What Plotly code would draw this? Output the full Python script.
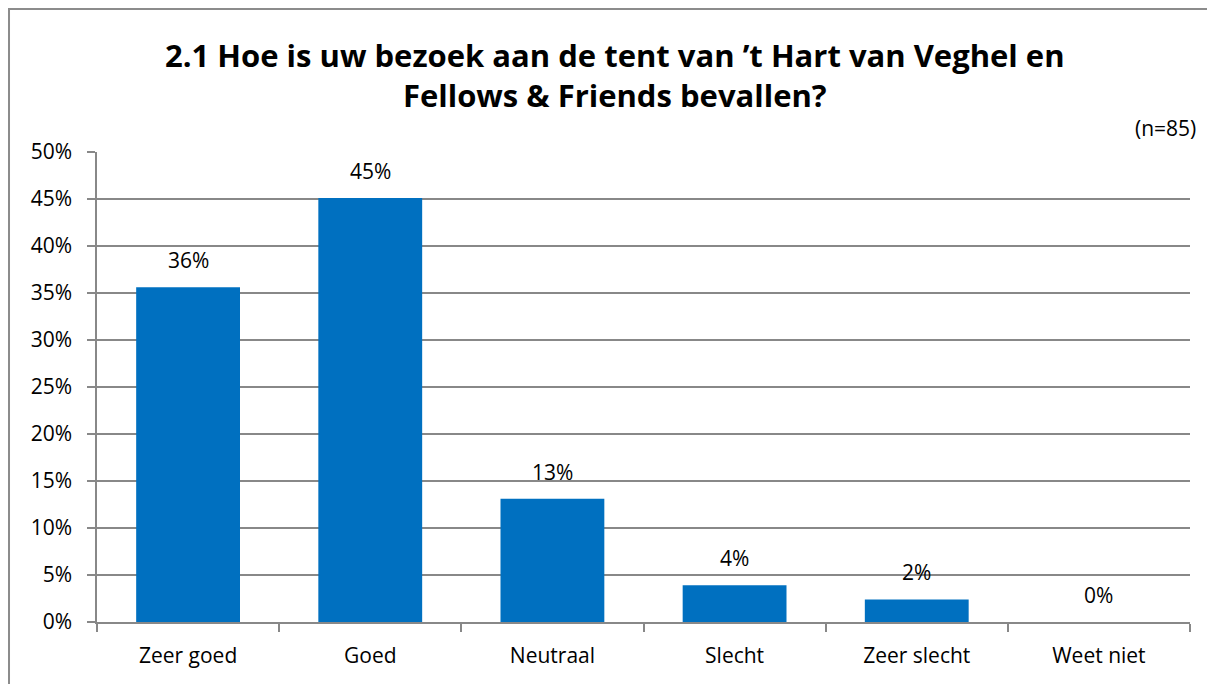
import plotly.graph_objects as go

categories = ["Zeer goed", "Goed", "Neutraal", "Slecht", "Zeer slecht", "Weet niet"]
values = [35.6, 45.1, 13.1, 3.9, 2.4, 0.0]
labels = ["36%", "45%", "13%", "4%", "2%", "0%"]
y_ticks = [0, 5, 10, 15, 20, 25, 30, 35, 40, 45, 50]
y_tick_labels = [f"{v}%" for v in y_ticks]

FONT = "Open Sans"
GRID = "#888888"
FS = 21

fig = go.Figure()
fig.add_trace(go.Bar(
    x=categories, y=values,
    marker=dict(color="#0070C0", line=dict(width=0)),
    hoverinfo="skip",
))

for c, v, t in zip(categories, values, labels):
    fig.add_annotation(x=c, y=v, text=t, showarrow=False,
                       yanchor="middle", yshift=27,
                       font=dict(family=FONT, size=FS, color="#000000"))

fig.add_annotation(xref="paper", yref="paper", x=1.0073, y=1.0, yshift=24,
                   xanchor="right", yanchor="middle", text="(n=85)",
                   showarrow=False, font=dict(family=FONT, size=FS, color="#000000"))

fig.add_annotation(xref="paper", yref="paper", x=0.4735, y=1.0, yshift=77,
                   xanchor="center", yanchor="middle",
                   text="<b>2.1 Hoe is uw bezoek aan de tent van ’t Hart van Veghel en<br>Fellows &amp; Friends bevallen?</b>",
                   showarrow=False, align="center",
                   font=dict(family=FONT, size=31, color="#000000"))

# outer frame (left and top edges; the rest lies outside the visible area)
fig.add_shape(type="path", xref="paper", yref="paper",
              path="M -0.0805,-0.2 L -0.0805,1.3043 L 1.2,1.3043",
              line=dict(color="#8c8c8c", width=2), layer="below")

fig.update_layout(
    width=1207, height=676,
    margin=dict(l=89, r=25, t=144, b=62),
    paper_bgcolor="white", plot_bgcolor="white",
    bargap=0.43, showlegend=False,
    font=dict(family=FONT, size=FS, color="#000000"),
)
fig.update_xaxes(
    showline=True, linecolor=GRID, linewidth=1.5,
    ticks="outside", tickson="boundaries", ticklen=8, tickcolor=GRID, tickwidth=1.5,
    ticklabelstandoff=14,
    showgrid=False, tickfont=dict(family=FONT, size=FS, color="#000000"),
    fixedrange=True,
)
fig.update_yaxes(
    range=[0, 50], tickvals=y_ticks, ticktext=y_tick_labels,
    showline=True, linecolor=GRID, linewidth=1.5,
    ticks="outside", ticklen=8, tickcolor=GRID, tickwidth=1.5,
    ticklabelstandoff=11,
    showgrid=True, gridcolor=GRID, gridwidth=1.5, zeroline=False,
    tickfont=dict(family=FONT, size=FS, color="#000000"),
    fixedrange=True,
)

fig.write_html("out.html")
